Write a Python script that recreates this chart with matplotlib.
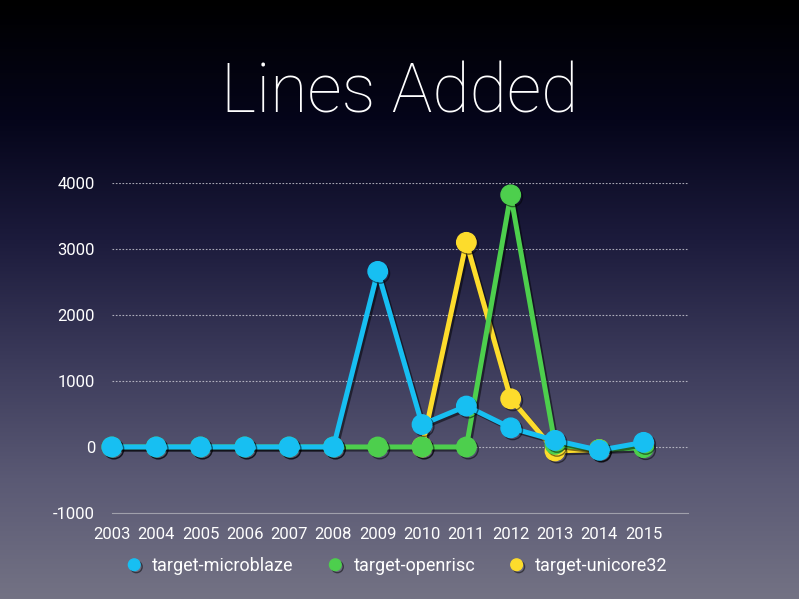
import matplotlib
matplotlib.use("Agg")
import matplotlib.pyplot as plt
import matplotlib.patheffects as pe
from matplotlib.colors import LinearSegmentedColormap
import numpy as np

years = list(range(2003, 2016))
microblaze = [0, 0, 0, 0, 0, 0, 2660, 340, 620, 290, 100, -50, 70]
openrisc = [0, 0, 0, 0, 0, 0, 0, 0, 0, 3820, 40, -40, -10]
unicore_years = [2010, 2011, 2012, 2013, 2014]
unicore32 = [0, 3100, 730, -60, -40]

yticks = [-1000, 0, 1000, 2000, 3000, 4000]
series_names = ["target-microblaze", "target-openrisc", "target-unicore32"]
colors = ["#17bff2", "#4dcf4d", "#fddc2c"]

plt.rcParams["font.family"] = ["Roboto", "DejaVu Sans"]
plt.rcParams["axes.unicode_minus"] = False

fig = plt.figure(figsize=(7.99, 5.99), dpi=100)

# background gradient
bg = fig.add_axes([0, 0, 1, 1], zorder=-10)
cmap = LinearSegmentedColormap.from_list("bg", [
    (0.0, "#000000"), (0.2, "#05051a"), (0.4, "#1c1b3c"),
    (0.6, "#3b3a5a"), (0.8, "#5a5974"), (1.0, "#737284")])
bg.imshow(np.linspace(0, 1, 256).reshape(-1, 1), aspect="auto", cmap=cmap,
          extent=[0, 1, 0, 1])
bg.axis("off")

ax = fig.add_axes([0.140, 0.1436, 0.721, 0.551])
ax.patch.set_alpha(0)
ax.set_xlim(2003, 2016)
ax.set_ylim(-1000, 4000)

for y in yticks[1:]:
    ax.axhline(y, color="#cfcfd8", lw=0.8, ls=(0, (1.5, 1.5)), alpha=0.8, zorder=1)

lshadow = [pe.SimpleLineShadow(offset=(1.5, -1.5), shadow_color="black", alpha=0.5), pe.Normal()]

data = [(years, microblaze), (years, openrisc), (unicore_years, unicore32)]
zorders = [6, 5, 4]
for (xs, ys), name, c, z in zip(data, series_names, colors, zorders):
    ax.plot(xs, ys, color=c, lw=3.6, marker="o", markersize=14, label=name,
            clip_on=False, zorder=z, path_effects=lshadow)

for s in ["top", "right", "left"]:
    ax.spines[s].set_visible(False)
ax.spines["bottom"].set_color("#a0a0ac")
ax.spines["bottom"].set_linewidth(0.8)

ax.set_xticks(years)
ax.set_yticks(yticks)
ax.set_xticklabels([str(y) for y in years])
ax.tick_params(axis="both", length=0, colors="white", labelsize=12)
ax.tick_params(axis="x", pad=10)
ax.tick_params(axis="y", pad=12)

fig.text(0.5, 0.843, "Lines Added", ha="center", va="center", color="white",
         fontsize=49, fontweight="light")

leg = fig.legend(loc="center", bbox_to_anchor=(0.497, 0.055), ncol=3, frameon=False,
                 fontsize=13, handlelength=0.8, handletextpad=0.6, columnspacing=1.9,
                 markerscale=0.6)
for t in leg.get_texts():
    t.set_color("white")
for h in leg.legend_handles:
    h.set_linewidth(0)

fig.savefig("out.png", dpi=100)
